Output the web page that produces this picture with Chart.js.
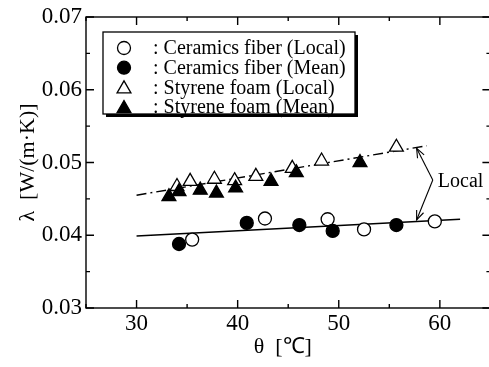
<!DOCTYPE html>
<html><head><meta charset="utf-8">
<script src="https://cdn.jsdelivr.net/npm/chart.js@4/dist/chart.umd.min.js"></script>
<style>
html,body{margin:0;padding:0;overflow:hidden;background:#fff;width:489px;height:367px}
#wrap{width:489px;height:367px;position:relative}
</style></head><body>
<div id="wrap"><canvas id="c" width="489" height="367"></canvas></div>
<script>
// ---- data ----
const ceramicsLocalX = [35.5, 42.7, 48.9, 52.5, 59.5];
const ceramicsLocalY = [0.0394, 0.0423, 0.0422, 0.0408, 0.0419];
const ceramicsMeanX  = [34.2, 40.9, 46.1, 49.4, 55.7];
const ceramicsMeanY  = [0.0388, 0.0417, 0.0414, 0.0406, 0.0414];
const styreneLocalX  = [34.0, 35.3, 37.7, 39.7, 41.8, 45.4, 48.3, 55.7];
const styreneLocalY  = [0.0467, 0.0474, 0.0477, 0.0475, 0.0481, 0.0492, 0.0502, 0.0521];
const styreneMeanX   = [33.2, 34.2, 36.3, 37.9, 39.8, 43.3, 45.8, 52.1];
const styreneMeanY   = [0.0453, 0.0460, 0.0462, 0.0458, 0.0465, 0.0474, 0.0486, 0.0500];
const ceramicsFitX   = [30, 62];
const ceramicsFitY   = [0.0399, 0.0422];
const styreneFitX    = [30, 58.7];
const styreneFitY    = [0.0455, 0.0523];
const xTicks = [30, 40, 50, 60];
const yTicks = [0.03, 0.04, 0.05, 0.06, 0.07];
const xMinorTicks = [25, 30, 35, 40, 45, 50, 55, 60, 65];
const yMinorTicks = [0.03, 0.035, 0.04, 0.045, 0.05, 0.055, 0.06, 0.065, 0.07];
const xFrameMax = 65;      // right frame of the original axis box (cut off by the picture edge)
const xVisibleMax = 63.94; // scale max so that the frame at 65 falls just past the picture edge
const legendLabels = [': Ceramics fiber (Local)', ': Ceramics fiber (Mean)', ': Styrene foam (Local)', ': Styrene foam (Mean)'];
const xTitle = 'θ  [℃]';
const yTitle = 'λ  [W/(m·K)]';
const noteText = 'Local';
const noteBend = [59.3, 0.0476];
const noteTipsX = [57.7, 57.7];
const noteTipsY = [0.05195, 0.0421];

const zip = (xs, ys) => xs.map((x, i) => ({x: x, y: ys[i]}));
const SERIF = '"Liberation Serif", "Times New Roman", serif';

const markerStyles = [
  {pointStyle: 'circle', radius: 6.5, fill: '#fff'},
  {pointStyle: 'circle', radius: 6.5, fill: '#000'},
  {pointStyle: 'triangle', radius: 8, fill: '#fff'},
  {pointStyle: 'triangle', radius: 8, fill: '#000'}
];

function drawMarker(ctx, st, x, y) {
  ctx.save();
  ctx.beginPath();
  if (st.pointStyle === 'circle') {
    ctx.arc(x, y, st.radius, 0, Math.PI * 2);
  } else {
    const r = st.radius;
    ctx.moveTo(x, y - r);
    ctx.lineTo(x + r * Math.sin(2 * Math.PI / 3), y - r * Math.cos(2 * Math.PI / 3));
    ctx.lineTo(x + r * Math.sin(4 * Math.PI / 3), y - r * Math.cos(4 * Math.PI / 3));
    ctx.closePath();
  }
  ctx.fillStyle = st.fill;
  ctx.fill();
  ctx.lineWidth = 1.3;
  ctx.strokeStyle = '#000';
  ctx.stroke();
  ctx.restore();
}

const decor = {
  id: 'decor',
  afterDraw(chart) {
    const ctx = chart.ctx;
    const a = chart.chartArea;
    const xs = chart.scales.x, ys = chart.scales.y;
    const right = xs.getPixelForValue(xFrameMax);
    ctx.save();
    ctx.strokeStyle = '#000';
    ctx.lineWidth = 1.4;
    ctx.strokeRect(a.left, a.top, right - a.left, a.bottom - a.top);
    // ticks inward
    xMinorTicks.forEach(v => {
      const px = xs.getPixelForValue(v);
      const len = xTicks.includes(v) ? 8 : 4;
      ctx.beginPath();
      ctx.moveTo(px, a.bottom); ctx.lineTo(px, a.bottom - len);
      ctx.moveTo(px, a.top); ctx.lineTo(px, a.top + len);
      ctx.stroke();
    });
    yMinorTicks.forEach(v => {
      const py = ys.getPixelForValue(v);
      const major = yTicks.some(t => Math.abs(t - v) < 1e-9);
      const len = major ? 8 : 4;
      ctx.beginPath();
      ctx.moveTo(a.left, py); ctx.lineTo(a.left + len, py);
      ctx.moveTo(right, py); ctx.lineTo(right - len, py);
      ctx.stroke();
    });
    // annotation arrows
    const bx = xs.getPixelForValue(noteBend[0]), by = ys.getPixelForValue(noteBend[1]);
    ctx.lineWidth = 1.1;
    noteTipsX.forEach((tx0, i) => {
      const tx = xs.getPixelForValue(tx0), ty = ys.getPixelForValue(noteTipsY[i]);
      ctx.beginPath();
      ctx.moveTo(bx, by); ctx.lineTo(tx, ty); ctx.stroke();
      const ang = Math.atan2(by - ty, bx - tx);
      const L = 10, w = 0.38;
      ctx.beginPath();
      ctx.moveTo(tx + L * Math.cos(ang + w), ty + L * Math.sin(ang + w));
      ctx.lineTo(tx, ty);
      ctx.lineTo(tx + L * Math.cos(ang - w), ty + L * Math.sin(ang - w));
      ctx.stroke();
    });
    ctx.fillStyle = '#000';
    ctx.font = '20px ' + SERIF;
    ctx.textBaseline = 'middle';
    ctx.textAlign = 'left';
    ctx.fillText(noteText, bx + 5, by + 2);
    // legend box
    const lx = 103, ly = 32, lw = 252, lh = 82;
    ctx.fillStyle = '#000';
    ctx.fillRect(lx + 3, ly + 3, lw, lh);
    ctx.fillStyle = '#fff';
    ctx.fillRect(lx, ly, lw, lh);
    ctx.lineWidth = 1.3;
    ctx.strokeRect(lx, ly, lw, lh);
    legendLabels.forEach((t, i) => {
      const ry = 48 + i * 19.7;
      drawMarker(ctx, markerStyles[i], 124, ry + (i >= 2 ? 1.5 : 0));
      ctx.fillStyle = '#000';
      ctx.font = '20px ' + SERIF;
      ctx.textBaseline = 'middle';
      ctx.fillText(t, 153, ry + 1);
    });
    ctx.restore();
  }
};

const lineBase = {showLine: true, pointRadius: 0, borderColor: '#000', fill: false, order: 10};

new Chart(document.getElementById('c'), {
  type: 'scatter',
  data: {
    datasets: [
      Object.assign({label: 'fit ceramics', data: zip(ceramicsFitX, ceramicsFitY), borderWidth: 1.6}, lineBase),
      Object.assign({label: 'fit styrene', data: zip(styreneFitX, styreneFitY), borderWidth: 1.4, borderDash: [10, 4, 2, 4]}, lineBase),
      {label: legendLabels[0], data: zip(ceramicsLocalX, ceramicsLocalY), pointStyle: 'circle', pointRadius: 6.5, backgroundColor: '#fff', borderColor: '#000', borderWidth: 1.3, order: 5},
      {label: legendLabels[2], data: zip(styreneLocalX, styreneLocalY), pointStyle: 'triangle', pointRadius: 8, backgroundColor: '#fff', borderColor: '#000', borderWidth: 1.3, order: 5},
      {label: legendLabels[1], data: zip(ceramicsMeanX, ceramicsMeanY), pointStyle: 'circle', pointRadius: 6.5, backgroundColor: '#000', borderColor: '#000', borderWidth: 1.3, order: 1},
      {label: legendLabels[3], data: zip(styreneMeanX, styreneMeanY), pointStyle: 'triangle', pointRadius: 8, backgroundColor: '#000', borderColor: '#000', borderWidth: 1.3, order: 1}
    ]
  },
  options: {
    responsive: false,
    animation: false,
    events: [],
    layout: {padding: {top: 17, right: 0, left: 0, bottom: 0}},
    plugins: {legend: {display: false}, tooltip: {enabled: false}},
    scales: {
      x: {
        type: 'linear', min: 25, max: xVisibleMax,
        afterBuildTicks: s => { s.ticks = xTicks.map(v => ({value: v})); },
        afterFit: s => { s.height = 59; s.paddingLeft = 0; s.paddingRight = 0; },
        grid: {display: false, drawTicks: false},
        border: {display: false},
        ticks: {color: '#000', padding: 2, font: {family: SERIF, size: 23}, maxRotation: 0},
        title: {display: true, text: xTitle, color: '#000', font: {family: SERIF, size: 22, lineHeight: 1}, padding: {top: 0, bottom: 9}}
      },
      y: {
        type: 'linear', min: 0.03, max: 0.07,
        afterBuildTicks: s => { s.ticks = yTicks.map(v => ({value: v})); },
        afterFit: s => { s.width = 86; s.paddingTop = 0; s.paddingBottom = 0; },
        grid: {display: false, drawTicks: false},
        border: {display: false},
        ticks: {color: '#000', padding: 4, font: {family: SERIF, size: 23}, callback: v => v.toFixed(2)},
        title: {display: true, text: yTitle, color: '#000', font: {family: SERIF, size: 22, lineHeight: 1}, padding: {top: 17, bottom: 0}}
      }
    }
  },
  plugins: [decor]
});
</script>
</body></html>
